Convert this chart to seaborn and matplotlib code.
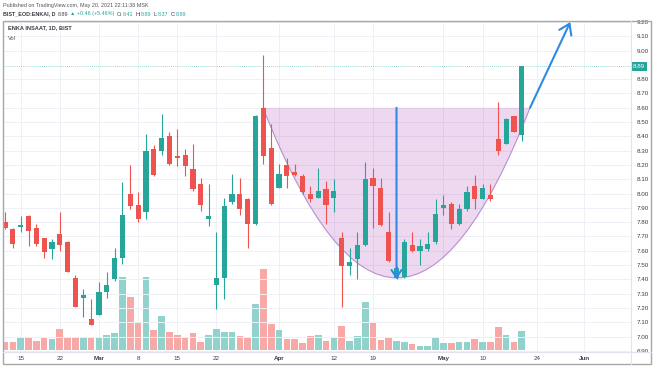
import numpy as np
import pandas as pd
import seaborn as sns
import matplotlib.pyplot as plt
from matplotlib.patches import Rectangle, PathPatch
from matplotlib.path import Path
from matplotlib.lines import Line2D
from matplotlib.transforms import blended_transform_factory

# ENKAI daily bars, 12 Feb - 20 May 2021 (x = trading day index)
opens = [7.80, 7.75, 7.765, 7.84, 7.76, 7.69, 7.61, 7.72, 7.66, 7.41,
         7.27, 7.12, 7.15, 7.31, 7.40, 7.55, 8.00, 7.92, 7.87, 8.31,
         8.30, 8.40, 8.26, 8.27, 8.17, 8.07, 7.82, 7.36, 7.41, 7.94,
         8.00, 7.96, 7.79, 8.60, 8.32, 8.04, 8.20, 8.15, 8.12, 8.00,
         7.97, 8.03, 7.97, 7.69, 7.49, 7.54, 7.64, 8.11, 8.04, 7.73,
         7.41, 7.42, 7.64, 7.60, 7.61, 7.66, 7.90, 7.93, 7.79, 7.89,
         8.05, 7.96, 7.99, 8.38, 8.35, 8.54, 8.41]
highs = [7.87, 7.76, 7.84, 7.85, 7.79, 7.69, 7.68, 7.87, 7.67, 7.43,
         7.33, 7.26, 7.38, 7.45, 7.62, 8.08, 8.20, 8.01, 8.42, 8.34,
         8.56, 8.43, 8.45, 8.31, 8.35, 8.11, 8.07, 7.73, 7.97, 8.14,
         8.11, 7.97, 8.55, 8.97, 8.49, 8.21, 8.25, 8.21, 8.14, 8.05,
         8.18, 8.09, 8.10, 7.73, 7.62, 7.73, 8.22, 8.18, 8.11, 7.87,
         7.49, 7.68, 7.73, 7.68, 7.73, 7.96, 7.99, 7.94, 7.93, 8.05,
         8.13, 8.07, 8.07, 8.64, 8.53, 8.54, 8.89]
lows = [7.75, 7.62, 7.73, 7.63, 7.63, 7.55, 7.54, 7.60, 7.45, 7.21,
        7.14, 7.08, 7.15, 7.27, 7.39, 7.51, 7.89, 7.80, 7.82, 8.12,
        8.27, 8.20, 8.19, 8.12, 8.02, 7.88, 7.77, 7.19, 7.26, 7.93,
        7.85, 7.62, 7.78, 8.21, 7.92, 8.04, 8.04, 8.12, 8.00, 7.94,
        7.97, 7.79, 7.87, 7.21, 7.43, 7.40, 7.63, 7.76, 7.77, 7.52,
        7.40, 7.41, 7.59, 7.50, 7.60, 7.65, 7.85, 7.75, 7.78, 7.88,
        7.89, 7.96, 7.95, 8.27, 8.35, 8.43, 8.37]
closes = [7.76, 7.65, 7.78, 7.74, 7.65, 7.59, 7.66, 7.64, 7.45, 7.21,
          7.29, 7.08, 7.31, 7.36, 7.55, 7.85, 7.91, 7.82, 8.30, 8.13,
          8.39, 8.21, 8.25, 8.19, 8.03, 7.92, 7.84, 7.41, 7.91, 8.00,
          7.89, 7.79, 8.54, 8.26, 7.93, 8.14, 8.12, 8.13, 8.01, 7.96,
          8.02, 7.92, 8.02, 7.49, 7.52, 7.64, 8.10, 8.05, 7.78, 7.53,
          7.48, 7.66, 7.60, 7.63, 7.65, 7.86, 7.92, 7.79, 7.89, 8.01,
          7.96, 8.04, 7.96, 8.30, 8.52, 8.43, 8.89]
# volume, millions
volumes = [0.42, 0.42, 0.58, 0.58, 0.47, 0.58, 0.53, 1.03, 0.58, 0.63,
           0.58, 0.63, 0.58, 0.75, 0.87, 3.63, 2.67, 1.33, 3.63, 1.00,
           1.72, 0.88, 0.75, 0.58, 0.87, 0.42, 0.75, 1.03, 0.92, 0.88,
           0.70, 0.63, 2.28, 4.03, 1.30, 1.00, 0.55, 0.55, 0.37, 0.70,
           0.75, 0.47, 0.58, 1.20, 0.45, 0.70, 2.42, 1.37, 0.50, 0.62,
           0.47, 0.42, 0.30, 0.20, 0.20, 0.58, 0.33, 0.33, 0.38, 0.42,
           0.55, 0.38, 0.42, 1.13, 0.75, 0.42, 0.97]

tick_pos = [2, 7, 12, 17, 22, 27, 35, 42, 47, 56, 61, 68, 74]
tick_labels = ['15', '22', 'Mar', '8', '15', '22', 'Apr', '12', '19', 'May', '10', '24', 'Jun']
months = ['Mar', 'Apr', 'May', 'Jun']
price_levels = [6.9, 7.0, 7.1, 7.2, 7.3, 7.4, 7.5, 7.6, 7.7, 7.8, 7.9, 8.0,
                8.1, 8.2, 8.3, 8.4, 8.5, 8.6, 8.7, 8.8, 9.0, 9.1, 9.2]
last_price = 8.89

# drawings on the chart (bar index, price)
cup_start = (32.95, 8.60)
cup_control = (50.1, 6.22)
cup_end = (67.05, 8.60)
drop_arrow = [(50.0, 8.60), (50.0, 7.40)]
breakout_arrow = [(67.05, 8.60), (72.2, 9.20)]

UP, DOWN = '#26a69a', '#ef5350'
UP_VOL, DOWN_VOL = '#92d2cc', '#f7a9a7'
BLUE = '#2e8ae6'
TXT = '#3a3d46'

sns.set_theme(style='white')
plt.rcParams['font.family'] = ['Liberation Sans', 'DejaVu Sans']

W, H = 654, 366
fig = plt.figure(figsize=(W / 100, H / 100), dpi=100)
L, R, T, B = 4, 631, 21, 352
fx = lambda px: px / W
fy = lambda py: 1 - py / H

axv = fig.add_axes([fx(L), fy(B), (R - L) / W, (B - T) / H])

n = len(closes)
o, c = np.array(opens), np.array(closes)
df = pd.DataFrame({'idx': np.arange(n), 'vol': volumes,
                   'dir': np.where(c >= o, 'up', 'down')})

sns.barplot(data=df, x='idx', y='vol', hue='dir', native_scale=True,
            palette={'up': UP_VOL, 'down': DOWN_VOL}, dodge=False,
            width=0.85, saturation=1, errorbar=None, legend=False,
            linewidth=0, ax=axv)
axv.set_ylim(-0.1, 16.45)
axv.set_xlabel('')
axv.set_ylabel('')
axv.set_yticks([])
axv.set_xticks(tick_pos)
axv.set_xticklabels(tick_labels)
axv.tick_params(axis='x', length=0, pad=3, labelsize=4.5, colors=TXT)
for lab in axv.get_xticklabels():
    if lab.get_text() in months:
        lab.set_fontweight('bold')
axv.grid(axis='x', color='#eef0f5', lw=0.7)
axv.set_axisbelow(True)

ax = axv.twinx()
cols = np.where(c >= o, UP, DOWN)
bottoms = np.minimum(o, c)
heights = np.maximum(np.abs(c - o), 0.012)
ax.vlines(np.arange(n), lows, highs, colors=cols, lw=0.8, zorder=3)
ax.bar(np.arange(n), heights, bottom=bottoms, width=0.66, color=cols, lw=0, zorder=4)

# cup pattern (quadratic curve)
verts = [cup_start, cup_control, cup_end]
fill = Path(verts + [cup_start], [Path.MOVETO, Path.CURVE3, Path.CURVE3, Path.CLOSEPOLY])
ax.add_patch(PathPatch(fill, facecolor=(0.612, 0.153, 0.69, 0.18), edgecolor='none', zorder=2))
curve = Path(verts, [Path.MOVETO, Path.CURVE3, Path.CURVE3])
ax.add_patch(PathPatch(curve, facecolor='none', edgecolor='#b391d0', lw=0.8, zorder=2))

ax.annotate('', xy=drop_arrow[1], xytext=drop_arrow[0],
            arrowprops=dict(arrowstyle='->,head_length=0.45,head_width=0.3',
                            color=BLUE, lw=1.5, shrinkA=0, shrinkB=0), zorder=5)
ax.annotate('', xy=breakout_arrow[1], xytext=breakout_arrow[0],
            arrowprops=dict(arrowstyle='->,head_length=0.6,head_width=0.4',
                            color=BLUE, lw=1.5, shrinkA=0, shrinkB=0), zorder=5)

ax.axhline(last_price, color=UP, lw=0.6, ls=(0, (1, 1.5)), alpha=0.6, zorder=1)
ax.text(1.0 + 2 / (R - L), last_price, f'{last_price:.2f}',
        transform=blended_transform_factory(ax.transAxes, ax.transData),
        ha='left', va='center', color='white', fontsize=4.5,
        bbox=dict(boxstyle='square,pad=0.3', fc=UP, ec='none'), clip_on=False)

ax.set_yticks(price_levels)
ax.set_yticklabels([f'{p:.2f}' for p in price_levels])
ax.tick_params(axis='y', length=0, pad=4, labelsize=4.5, colors=TXT)
ax.grid(axis='y', color='#eef0f5', lw=0.7)
ax.set_ylim(6.892, 9.207)
ax.set_xlim(-0.13, 79.95)

for a in (ax, axv):
    for s in a.spines.values():
        s.set_visible(False)

# frame and separators
fig.add_artist(Rectangle((fx(3), fy(364)), (651 - 3) / W, (364 - 21) / H,
                         transform=fig.transFigure, fill=False, ec='#a8a8a8', lw=1.0))
fig.add_artist(Line2D([fx(R), fx(R)], [fy(21), fy(364)], color='#e0e3eb', lw=0.8))
fig.add_artist(Line2D([fx(3), fx(651)], [fy(B), fy(B)], color='#e0e3eb', lw=0.8))

# header texts
fig.text(fx(3), fy(5), 'Published on TradingView.com, May 20, 2021 22:11:38 MSK',
         fontsize=3.9, color='#555', va='center', ha='left')
segments = [('BIST_EOD:ENKAI, D', TXT, 'bold'), ('8.89', TXT, 'normal'),
            ('▲ +0.46 (+5.46%)', UP, 'normal'), ('O:', TXT, 'normal'), ('8.41', UP, 'normal'),
            ('H:', TXT, 'normal'), ('8.89', UP, 'normal'), ('L:', TXT, 'normal'),
            ('8.37', UP, 'normal'), ('C:', TXT, 'normal'), ('8.89', UP, 'normal')]
prev = fig.text(fx(3), fy(14), segments[0][0], fontsize=3.9, color=segments[0][1],
                fontweight=segments[0][2], va='center', ha='left')
for i, (txt, col, wt) in enumerate(segments[1:]):
    gap = 0 if txt[0].isdigit() and segments[i][0].endswith(':') else 1.6
    prev = ax.annotate(txt, xy=(1, 0.5), xycoords=prev, xytext=(gap, 0),
                       textcoords='offset points', va='center', ha='left',
                       fontsize=3.9, color=col, fontweight=wt, annotation_clip=False)

fig.text(fx(8), fy(28), 'ENKA INSAAT, 1D, BIST', fontsize=4.1, fontweight='bold',
         color=TXT, va='center', ha='left')
fig.text(fx(8), fy(38), 'Vol', fontsize=4.1, color='#555', va='center', ha='left')

fig.savefig('out.png', dpi=100)
